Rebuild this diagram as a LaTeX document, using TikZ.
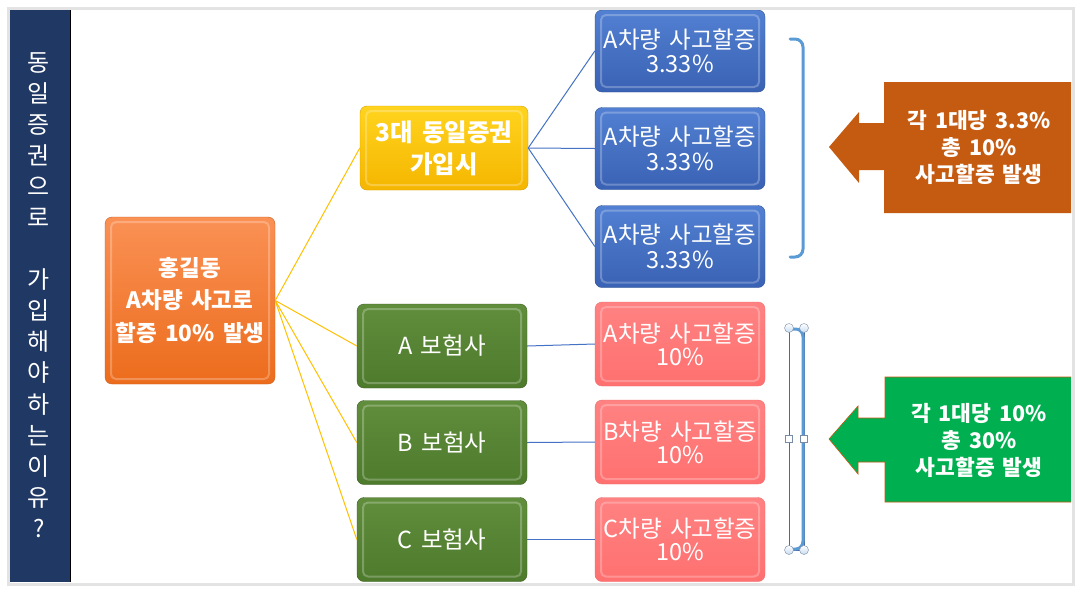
\documentclass[tikz,border=0pt]{standalone}
\usepackage{fontspec}
\setmainfont[WordSpace=1.6]{Noto Sans CJK KR}
\usetikzlibrary{calc}
\definecolor{navy}{HTML}{203864}
\definecolor{frame}{HTML}{E3E3E3}
\definecolor{yline}{HTML}{FFC000}
\definecolor{bline}{HTML}{4472C4}
\definecolor{brk}{HTML}{5B9BD5}
\definecolor{brown}{HTML}{C55A11}
\definecolor{garrow}{HTML}{00B050}
\definecolor{orD}{RGB}{200,95,30}\definecolor{orT}{RGB}{250,145,85}\definecolor{orB}{RGB}{236,108,28}
\definecolor{yeD}{RGB}{210,160,0}\definecolor{yeT}{RGB}{255,212,30}\definecolor{yeB}{RGB}{245,182,0}
\definecolor{blD}{RGB}{47,82,143}\definecolor{blT}{RGB}{82,128,210}\definecolor{blB}{RGB}{58,98,180}
\definecolor{grD}{RGB}{60,95,35}\definecolor{grT}{RGB}{96,142,60}\definecolor{grB}{RGB}{78,122,44}
\definecolor{piD}{RGB}{235,110,110}\definecolor{piT}{RGB}{255,130,130}\definecolor{piB}{RGB}{255,112,112}
\definecolor{hdD}{RGB}{120,140,165}\definecolor{hdB}{RGB}{200,220,240}\definecolor{selc}{RGB}{74,106,154}
\tikzset{
  bevel/.style={rounded corners=7pt, inner sep=0pt, align=center, text=white,
    path picture={\draw[white, opacity=0.25, line width=2pt, rounded corners=5pt]
      ([shift={(6pt,-5pt)}]path picture bounding box.north west) rectangle
      ([shift={(-6pt,5pt)}]path picture bounding box.south east);}},
  orangebox/.style={bevel, draw=orD, top color=orT, bottom color=orB,
    minimum width=170pt, minimum height=167pt, font=\fontsize{22.5}{32.5}\selectfont\bfseries},
  yellowbox/.style={bevel, draw=yeD, top color=yeT, bottom color=yeB,
    minimum width=168pt, minimum height=84pt, font=\fontsize{24.5}{32}\selectfont\bfseries},
  bluebox/.style={bevel, draw=blD, top color=blT, bottom color=blB,
    minimum width=170pt, minimum height=82pt, font=\fontsize{23.5}{24.5}\selectfont},
  greenbox/.style={bevel, draw=grD, top color=grT, bottom color=grB,
    minimum width=170pt, minimum height=84pt, font=\fontsize{23.5}{24}\selectfont},
  pinkbox/.style={bevel, draw=piD, top color=piT, bottom color=piB,
    minimum width=170pt, minimum height=84pt, font=\fontsize{23.5}{23}\selectfont},
  yconn/.style={draw=yline, line width=1pt},
  bconn/.style={draw=bline, line width=1pt},
  bracketline/.style={draw=brk, line width=3pt, line cap=round},
  arrowtext/.style={text=white, align=center, font=\fontsize{21.5}{27}\selectfont\bfseries},
  handle/.style={circle, minimum size=9pt, inner sep=0pt, draw=hdD, top color=white, bottom color=hdB},
  sqhandle/.style={rectangle, minimum size=7pt, inner sep=0pt, draw=hdD, fill=white},
}
\begin{document}
\begin{tikzpicture}[x=1pt,y=-1pt]
\useasboundingbox (0,0) rectangle (1083,595);
\fill[white] (0,0) rectangle (1083,595);
% left bar
\fill[navy] (10,10) rectangle (70,582);
\draw[black, line width=1pt] (70,10) -- (70,582);
\node (side) [text=white, align=center, font=\fontsize{24}{31.07}\selectfont, inner sep=0pt] at (39,295)
  {동\\일\\증\\권\\으\\로\\ \\가\\입\\해\\야\\하\\는\\이\\유\\?};
% arrows
\path[fill=brown] (1071,82) -- (884,82) -- (884,123) -- (859,123) -- (859,112) -- (829,147) -- (859,183) -- (859,170) -- (884,170) -- (884,213) -- (1071,213) -- cycle;
\node (t1) [arrowtext] at (979,147) {각 1대당 3.3\%\\총 10\%\\사고할증 발생};
\path[fill=garrow, draw=brown, line width=0.6pt] (1071,377) -- (885,377) -- (885,418) -- (858,418) -- (858,406) -- (829,439) -- (858,474) -- (858,462) -- (885,462) -- (885,502) -- (1071,502);
\node (t2) [arrowtext] at (979,440) {각 1대당 10\%\\총 30\%\\사고할증 발생};
% nodes
\node (hong) [orangebox] at (190,300.5) {홍길동\\A차량 사고로\\할증 10\% 발생};
\node (yel) [yellowbox] at (444,148) {3대 동일증권\\가입시};
\node (b1) [bluebox] at (680,51) {A차량 사고할증\\3.33\%};
\node (b2) [bluebox] at (680,148.5) {A차량 사고할증\\3.33\%};
\node (b3) [bluebox] at (680,246.5) {A차량 사고할증\\3.33\%};
\node (ga) [greenbox] at (442,346) {A 보험사};
\node (gb) [greenbox] at (442,442.5) {B 보험사};
\node (gc) [greenbox] at (442,539.5) {C 보험사};
\node (pa) [pinkbox] at (680,344) {A차량 사고할증\\10\%};
\node (pb) [pinkbox] at (680,442) {B차량 사고할증\\10\%};
\node (pc) [pinkbox] at (680,539.5) {C차량 사고할증\\10\%};
% connectors
\draw[yconn] (hong.east) -- (yel.west);
\draw[yconn] (hong.east) -- (ga.west);
\draw[yconn] (hong.east) -- (gb.west);
\draw[yconn] (hong.east) -- (gc.west);
\draw[bconn] (yel.east) -- (b1.west);
\draw[bconn] (yel.east) -- (b2.west);
\draw[bconn] (yel.east) -- (b3.west);
\draw[bconn] (ga.east) -- (pa.west);
\draw[bconn] (gb.east) -- (pb.west);
\draw[bconn] (gc.east) -- (pc.west);
% brackets
\draw[bracketline] (790,39) -- (795,39) to[out=0,in=90] (803,47) -- (803,249) to[out=-90,in=0] (795,257) -- (790,257);
\draw[draw=selc, line width=0.7pt] (789,328) rectangle (804,550);
\draw[bracketline] (790,329) -- (796,329) to[out=0,in=90] (803,337) -- (803,541) to[out=-90,in=0] (796,549) -- (790,549);
\node (h1) [handle] at (789,328) {};
\node (h2) [handle] at (804,328) {};
\node (h3) [handle] at (789,550) {};
\node (h4) [handle] at (804,550) {};
\node (h5) [sqhandle] at (789,439) {};
\node (h6) [sqhandle] at (804,439) {};
% frame
\draw[frame, line width=2.5pt] (8.5,8.5) rectangle (1073.5,584.5);
\end{tikzpicture}
\end{document}
